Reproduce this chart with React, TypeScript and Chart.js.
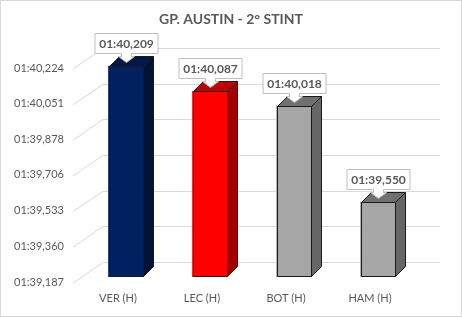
import React, { useEffect, useRef } from "react";
import { Chart, registerables } from "chart.js";

Chart.register(...registerables);

// ---- data ----
const TITLE = "GP. AUSTIN - 2° STINT";
const CATEGORIES = ["VER (H)", "LEC (H)", "BOT (H)", "HAM (H)"];
const LAP_SECONDS = [100.209, 100.087, 100.018, 99.55];
const TICK_VALUES = [99.187, 99.36, 99.533, 99.706, 99.878, 100.051, 100.224];
const AXIS_MIN = 99.187;
const AXIS_MAX = 100.224;

// ---- styles ----
const FRONT_COLORS = ["#002060", "#FF0000", "#A6A6A6", "#A6A6A6"];
const SIDE_COLORS = ["#001236", "#A00000", "#666666", "#666666"];
const TOP_COLORS = ["#001845", "#C00000", "#707070", "#707070"];
const FONT = "Lato, 'Open Sans', 'DejaVu Sans', sans-serif";
const TEXT = "#595959";
const GRID = "#d9d9d9";
const EDGE = "#1a1a1a";
const DEPTH_X = 10;
const DEPTH_Y = -10;
const WALL_LEFT = 103;
const WALL_RIGHT = 440;
const WALL_DY = -15;

const pad = (n: number, w: number) => String(n).padStart(w, "0");
function fmtLap(v: number): string {
  const ms = Math.round(v * 1000);
  const m = Math.floor(ms / 60000);
  const s = Math.floor((ms % 60000) / 1000);
  const r = ms % 1000;
  return `${pad(m, 2)}:${pad(s, 2)},${pad(r, 3)}`;
}

const framePlugin = {
  id: "frame",
  beforeDraw(chart: any) {
    const { ctx, width, height } = chart;
    ctx.save();
    ctx.fillStyle = "#ffffff";
    ctx.fillRect(0, 0, width, height);
    ctx.strokeStyle = GRID;
    ctx.lineWidth = 1;
    ctx.strokeRect(0.5, 0.5, width - 1, height - 1);
    ctx.font = `bold 14px ${FONT}`;
    ctx.fillStyle = TEXT;
    ctx.textAlign = "center";
    ctx.textBaseline = "middle";
    ctx.fillText(TITLE, width / 2, 19);
    ctx.restore();
  },
};

const wallPlugin = {
  id: "wall",
  beforeDatasetsDraw(chart: any) {
    const { ctx } = chart;
    const ys = chart.scales.y;
    ctx.save();
    ctx.strokeStyle = GRID;
    ctx.lineWidth = 1;
    TICK_VALUES.forEach((v) => {
      const y = ys.getPixelForValue(v);
      const yb = Math.round(y + WALL_DY) + 0.5;
      ctx.beginPath();
      ctx.moveTo(73, y + 6);
      ctx.lineTo(WALL_LEFT, yb);
      ctx.lineTo(WALL_RIGHT, yb);
      ctx.stroke();
    });
    ctx.restore();
  },
};

const bar3dPlugin = {
  id: "bar3d",
  afterDatasetsDraw(chart: any) {
    const { ctx, chartArea } = chart;
    const meta = chart.getDatasetMeta(0);
    ctx.save();
    ctx.lineWidth = 1;
    ctx.strokeStyle = EDGE;
    ctx.lineJoin = "round";
    meta.data.forEach((bar: any, i: number) => {
      const { x, y, base, width } = bar.getProps(["x", "y", "base", "width"], true);
      const L = Math.round(x - width / 2) + 0.5;
      const R = Math.round(x + width / 2) - 0.5;
      const T = Math.round(y) + 0.5;
      const B = Math.round(Math.min(base, chartArea.bottom)) - 0.5;
      // side
      ctx.beginPath();
      ctx.moveTo(R, T);
      ctx.lineTo(R + DEPTH_X, T + DEPTH_Y);
      ctx.lineTo(R + DEPTH_X, B + DEPTH_Y);
      ctx.lineTo(R, B);
      ctx.closePath();
      ctx.fillStyle = SIDE_COLORS[i];
      ctx.fill();
      ctx.stroke();
      // top
      ctx.beginPath();
      ctx.moveTo(L, T);
      ctx.lineTo(L + DEPTH_X, T + DEPTH_Y);
      ctx.lineTo(R + DEPTH_X, T + DEPTH_Y);
      ctx.lineTo(R, T);
      ctx.closePath();
      ctx.fillStyle = TOP_COLORS[i];
      ctx.fill();
      ctx.stroke();
      // front outline
      ctx.strokeRect(L, T, R - L, B - T);
    });

    // data labels (callouts)
    meta.data.forEach((bar: any, i: number) => {
      const { x, y } = bar.getProps(["x", "y"], true);
      const cx = Math.round(x) + 0.5;
      const bottom = Math.round(y - 13) + 0.5;
      const h = 20;
      const w = 63;
      const l = cx - w / 2;
      const r = cx + w / 2;
      const t = bottom - h;
      ctx.beginPath();
      ctx.moveTo(l, t);
      ctx.lineTo(r, t);
      ctx.lineTo(r, bottom);
      ctx.lineTo(cx + 5, bottom);
      ctx.lineTo(cx + 5, bottom + 3);
      ctx.lineTo(cx + 8, bottom + 3);
      ctx.lineTo(cx, bottom + 9);
      ctx.lineTo(cx - 8, bottom + 3);
      ctx.lineTo(cx - 5, bottom + 3);
      ctx.lineTo(cx - 5, bottom);
      ctx.lineTo(l, bottom);
      ctx.closePath();
      ctx.fillStyle = "#ffffff";
      ctx.fill();
      ctx.strokeStyle = "#bfbfbf";
      ctx.stroke();
      ctx.font = `bold 12px ${FONT}`;
      ctx.fillStyle = TEXT;
      ctx.textAlign = "center";
      ctx.textBaseline = "middle";
      ctx.fillText(fmtLap(LAP_SECONDS[i]), cx, t + h / 2 + 0.5);
    });
    ctx.restore();
  },
};

export default function App() {
  const ref = useRef<HTMLCanvasElement | null>(null);
  useEffect(() => {
    if (!ref.current) return;
    const chart = new Chart(ref.current, {
      type: "bar",
      data: {
        labels: CATEGORIES,
        datasets: [
          {
            data: LAP_SECONDS,
            base: AXIS_MIN,
            backgroundColor: FRONT_COLORS,
            borderWidth: 0,
            barThickness: 35,
          },
        ],
      },
      options: {
        responsive: false,
        animation: false,
        events: [],
        layout: { padding: { top: 63, right: 42, bottom: 0, left: 0 } },
        plugins: {
          legend: { display: false },
          title: { display: false },
          tooltip: { enabled: false },
        },
        scales: {
          x: {
            type: "category",
            grid: { display: false, drawTicks: false },
            border: { display: false },
            ticks: {
              color: TEXT,
              font: { family: FONT, size: 11 },
              padding: 15,
              labelOffset: -8,
              maxRotation: 0,
            },
            afterFit: (s: any) => {
              s.height = 40;
            },
          },
          y: {
            type: "linear",
            min: AXIS_MIN,
            max: AXIS_MAX,
            grid: { display: false, drawTicks: false },
            border: { display: false },
            ticks: {
              color: TEXT,
              font: { family: FONT, size: 11 },
              padding: 20,
              labelOffset: 5,
              callback: (v: any) => fmtLap(Number(v)),
            },
            afterBuildTicks: (s: any) => {
              s.ticks = TICK_VALUES.map((v) => ({ value: v }));
            },
            afterFit: (s: any) => {
              s.width = 84;
            },
          },
        },
      },
      plugins: [framePlugin, wallPlugin, bar3dPlugin],
    });
    return () => chart.destroy();
  }, []);
  return (
    <div style={{ position: "absolute", left: 0, top: 0, width: 462, height: 317 }}>
      <canvas ref={ref} width={462} height={317} style={{ display: "block" }} />
    </div>
  );
}
